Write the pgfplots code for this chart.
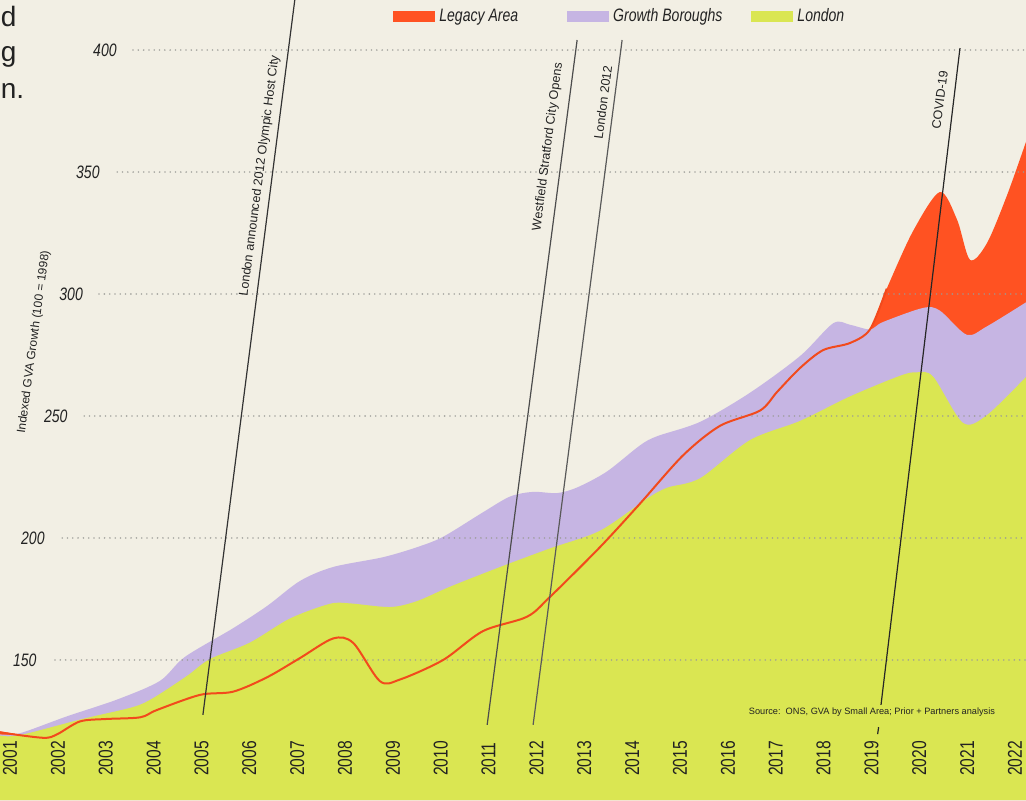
\documentclass[border=0pt]{standalone}
\usepackage{fontspec}
\setmainfont{Liberation Sans}
\newfontfamily\condfont[FakeStretch=0.78]{Liberation Sans}
\usepackage{pgfplots}
\pgfplotsset{compat=1.18}
\definecolor{bgc}{HTML}{F2EFE4}
\definecolor{londonc}{HTML}{DAE652}
\definecolor{gbc}{HTML}{C6B5E3}
\definecolor{legacyc}{HTML}{FF5222}
\definecolor{legline}{HTML}{F24A1C}
\definecolor{gridc}{HTML}{9A9A96}
\definecolor{txtc}{HTML}{222222}
\begin{document}
\begin{tikzpicture}
\begin{axis}[
  at={(0,0)}, anchor=south west,
  scale only axis, width=513pt, height=400pt,
  xmin=2000.79, xmax=2022.23, ymin=92.6, ymax=420.5,
  axis background/.style={fill=bgc},
  axis line style={draw=none},
  tick style={draw=none},
  major tick length=0pt,
  ytick=\empty, xtick=\empty,
  legend columns=3,
  legend style={at={(axis description cs:0.383,0.979)}, anchor=west, draw=none, fill=none,
    inner sep=0pt, text=txtc,
    font=\condfont\itshape\fontsize{9}{10}\selectfont,
    /tikz/column 2/.style={column sep=22.5pt},
    /tikz/column 4/.style={column sep=12.5pt}},
  legend image code/.code={\fill[#1] (0pt,-2.8pt) rectangle (21pt,2.8pt);},
]
% Legacy area (drawn first, behind)
\addplot[fill=legacyc, draw=none, smooth] coordinates {
(2000.79,120.8) (2001.69,118.1) (2001.98,119.5) (2002.46,124.8) (2003.0,125.8) (2003.72,126.5) (2004.07,129.5) (2004.97,135.7) (2005.66,137.0) (2006.37,142.9) (2007.06,150.8) (2007.75,158.8) (2008.17,157.0) (2008.73,141.3) (2009.15,142.0) (2010.05,150.0) (2010.88,161.8) (2011.80,167.7) (2012.28,175.8) (2013.33,196.3) (2014.16,214.0) (2015.06,233.8) (2015.83,245.9) (2016.67,252.2) (2017.03,259.9) (2017.51,269.7) (2017.99,277.0) (2018.55,279.9) (2018.97,285.5) (2019.32,302.2) (2019.87,325.8) (2020.43,341.8) (2020.79,330.4) (2021.06,314.0) (2021.41,320.7) (2021.83,340.3) (2022.23,362.4)
} \closedcycle;
\addlegendentry{Legacy Area}
% Growth Boroughs
\addplot[fill=gbc, draw=none, smooth] coordinates {
(2000.79,119.5) (2001.21,120.0) (2002.19,126.9) (2003.24,133.8) (2004.13,141.4) (2004.65,151.2) (2005.66,163.0) (2006.37,172.1) (2007.06,182.4) (2007.75,188.1) (2008.79,192.1) (2009.50,196.2) (2010.05,200.5) (2010.88,210.5) (2011.45,217.0) (2011.93,218.9) (2012.43,218.4) (2012.85,220.7) (2013.47,227.2) (2014.16,237.9) (2014.52,241.7) (2015.42,247.6) (2016.46,259.5) (2017.51,274.6) (2018.2,288.0) (2018.55,287.4) (2018.97,285.5) (2019.24,288.5) (2020.08,294.3) (2020.43,293.2) (2020.99,283.3) (2021.41,286.7) (2022.23,296.6)
} \closedcycle;
\addlegendentry{Growth Boroughs}
% London
\addplot[fill=londonc, draw=none, smooth] coordinates {
(2000.79,119.0) (2001.21,119.2) (2002.53,125.9) (2003.57,130.7) (2004.0,134.5) (2004.70,143.5) (2005.18,150.4) (2006.01,157.1) (2006.85,167.0) (2007.68,173.0) (2008.1,173.2) (2008.94,171.7) (2009.50,174.1) (2010.19,180.0) (2011.24,188.1) (2012.28,195.7) (2013.33,203.0) (2014.3,216.0) (2014.73,220.6) (2015.42,224.5) (2016.46,240.1) (2017.51,248.0) (2018.55,258.0) (2019.6,266.5) (2019.95,267.9) (2020.29,266.1) (2020.91,247.2) (2021.41,250.3) (2022.23,266.0)
} \closedcycle;
\addlegendentry{London}
% dotted gridlines
\foreach \yv/\xs in {400/2003.57, 350/2003.24, 300/2002.86, 250/2002.55, 200/2002.09, 150/2001.94} {
  \edef\tmp{\noexpand\draw[gridc, line width=0.9pt, line cap=round, dash pattern=on 0pt off 2.65pt, opacity=0.85] (axis cs:\xs,\yv) -- (axis cs:2022.23,\yv);}
  \tmp
}
% y tick labels
\foreach \yv/\xl in {400/2003.236, 350/2002.88, 300/2002.53, 250/2002.21, 200/2001.73, 150/2001.56} {
  \edef\tmp{\noexpand\node[anchor=east, inner sep=0pt, text=txtc, font=\noexpand\condfont\noexpand\itshape\noexpand\fontsize{9}{10}\noexpand\selectfont] at (axis cs:\xl,\yv) {\yv};}
  \tmp
}
% x (year) labels, set inside the plot near its foot
\foreach \yr in {2001,2002,2003,2004,2005,2006,2007,2008,2009,2010,2011,2012,2013,2014,2015,2016,2017,2018,2019,2020,2021,2022} {
  \edef\tmp{\noexpand\node[rotate=90, anchor=west, inner sep=0pt, text=txtc, font=\noexpand\condfont\noexpand\fontsize{10}{12}\noexpand\selectfont] at (axis cs:\yr,102.3) {\yr};}
  \tmp
}
% Legacy line
\addplot[legline, line width=1pt, smooth, forget plot] coordinates {
(2000.79,120.3) (2001.69,118.1) (2001.98,119.5) (2002.46,124.8) (2003.0,125.8) (2003.72,126.5) (2004.07,129.5) (2004.97,135.7) (2005.66,137.0) (2006.37,142.9) (2007.06,150.8) (2007.75,158.8) (2008.17,157.0) (2008.73,141.3) (2009.15,142.0) (2010.05,150.0) (2010.88,161.8) (2011.80,167.7) (2012.28,175.8) (2013.33,196.3) (2014.16,214.0) (2015.06,233.8) (2015.83,245.9) (2016.67,252.2) (2017.03,259.9) (2017.51,269.7) (2017.99,277.0) (2018.55,279.9) (2018.97,285.5) (2019.32,302.2)
};
% event lines
\draw[black!80, line width=0.6pt] (axis cs:2005.03,127.5) -- (axis cs:2006.95,420.5);
\draw[black!70, line width=0.6pt] (axis cs:2010.97,123.4) -- (axis cs:2012.85,404.1);
\draw[black!65, line width=0.6pt] (axis cs:2011.93,123.4) -- (axis cs:2013.79,404.1);
\draw[black!85, line width=0.6pt] (axis cs:2020.85,400.8) -- (axis cs:2019.20,131.6);
\draw[black!85, line width=0.6pt] (axis cs:2019.15,122.5) -- (axis cs:2019.13,119.6);
% event labels
\node[rotate=82.6, text=txtc, font=\fontsize{6.3}{7}\selectfont] at (axis cs:2006.22,348.4) {London announced 2012 Olympic Host City};
\node[rotate=82.6, text=txtc, font=\fontsize{6.3}{7}\selectfont] at (axis cs:2012.24,360.3) {Westfield Stratford City Opens};
\node[rotate=82.6, text=txtc, font=\fontsize{6.3}{7}\selectfont] at (axis cs:2013.39,378.7) {London 2012};
\node[rotate=82.6, text=txtc, font=\fontsize{6.3}{7}\selectfont] at (axis cs:2020.43,379.5) {COVID-19};
% axis title
\node[rotate=82.4, text=txtc, font=\fontsize{6}{7}\selectfont] at (axis cs:2001.50,280.3) {Indexed GVA Growth (100 = 1998)};
% source
\node[text=txtc, font=\fontsize{4.6}{5.5}\selectfont] at (axis cs:2019.01,128.7) {Source:\ \ ONS, GVA by Small Area; Prior + Partners analysis};
% title fragments at the left edge
\node[anchor=base west, inner sep=0pt, text=txtc, font=\fontsize{14}{16}\selectfont] at (axis cs:2000.80,409.8) {d};
\node[anchor=base west, inner sep=0pt, text=txtc, font=\fontsize{14}{16}\selectfont] at (axis cs:2000.80,395.1) {g};
\node[anchor=base west, inner sep=0pt, text=txtc, font=\fontsize{14}{16}\selectfont] at (axis cs:2000.80,380.3) {n.};
\end{axis}
\pgfresetboundingbox
\path (0,0) rectangle (513pt,400pt);
\end{tikzpicture}
\end{document}
